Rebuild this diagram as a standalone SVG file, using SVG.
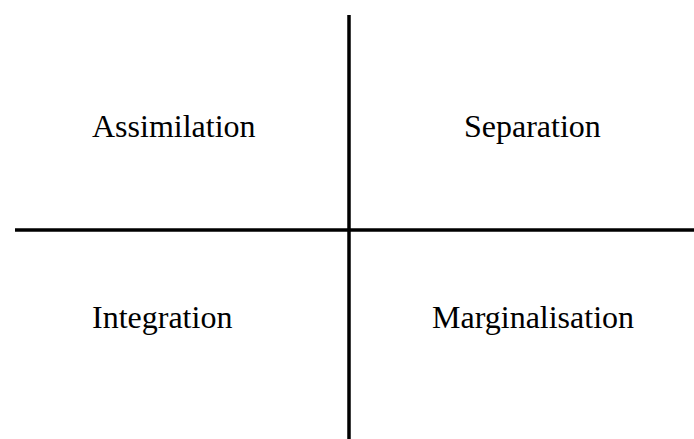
<svg xmlns="http://www.w3.org/2000/svg" width="694" height="439" viewBox="0 0 694 439">
  <style>
    .axis { stroke: #000; stroke-width: 3.5; fill: none; }
    .label { font-family: "Liberation Serif", "Times New Roman", serif; font-size: 32px; fill: #000; }
  </style>
  <rect width="694" height="439" fill="#fff"/>
  <g id="axes">
    <line class="axis" x1="349" y1="15" x2="349" y2="439"/>
    <line class="axis" x1="15" y1="230" x2="694" y2="230"/>
  </g>
  <g id="assimilation"><text class="label" x="92" y="137">Assimilation</text></g>
  <g id="separation"><text class="label" x="464" y="137">Separation</text></g>
  <g id="integration"><text class="label" x="92" y="328">Integration</text></g>
  <g id="marginalisation"><text class="label" x="432" y="328">Marginalisation</text></g>
</svg>
